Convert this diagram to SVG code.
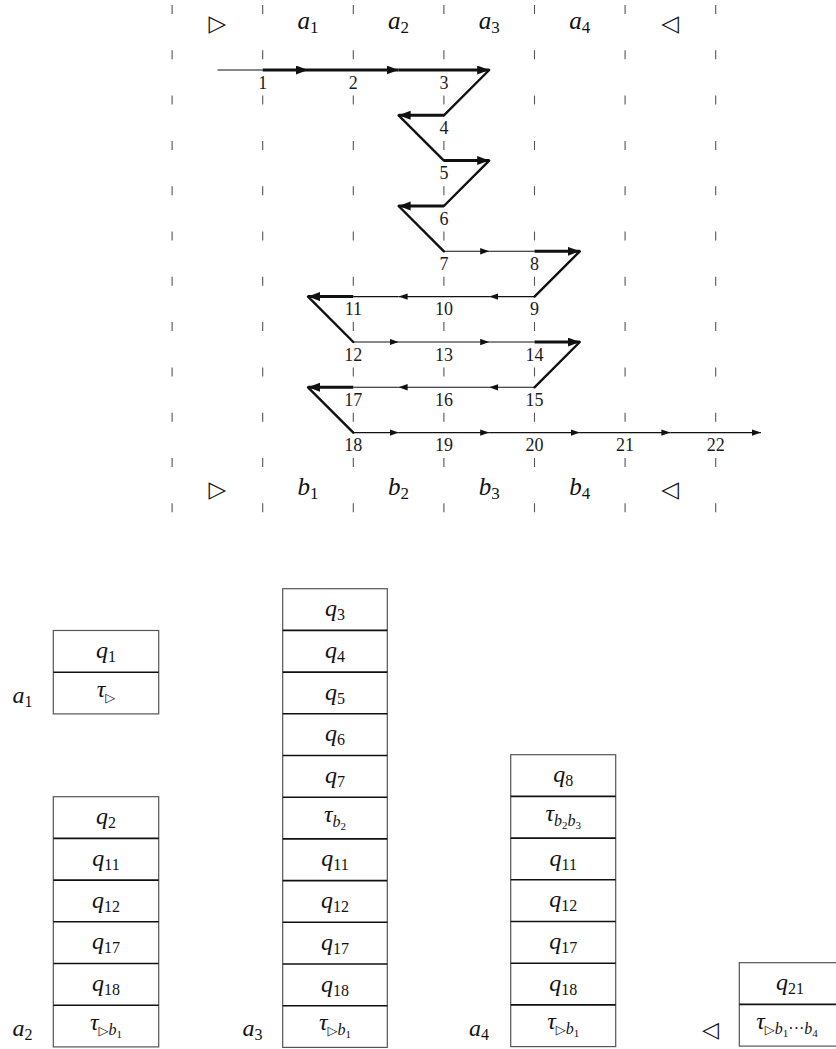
<svg xmlns="http://www.w3.org/2000/svg" width="836" height="1049" viewBox="0 0 836 1049">
  <style>
    .grid line { stroke: #555; stroke-width: 1.1; stroke-dasharray: 9 36.3; }
    .m { font-family: "Liberation Serif", serif; font-style: italic; fill: #111; }
    .hd { font-size: 25px; text-anchor: middle; }
    .cellt { font-size: 24px; text-anchor: middle; }
    .sym { font-family: "DejaVu Sans", sans-serif; font-style: normal; fill: #111; }
    .up { font-style: normal; }
    .n { font-family: "Liberation Serif", serif; font-size: 18px; fill: #1a1a1a; text-anchor: middle; }
    .thin { stroke: #111; stroke-width: 1.1; fill: none; }
    .thick { stroke: #111; stroke-width: 3; fill: none; }
    .diag { stroke: #111; stroke-width: 2.4; fill: none; stroke-linecap: round; }
    .cell { fill: #fff; stroke: #555; stroke-width: 1.2; }
    .div { stroke: #111; stroke-width: 1.6; }
  </style>
  <defs>
    <marker id="sm" markerUnits="userSpaceOnUse" markerWidth="10" markerHeight="7" refX="9" refY="3.2" orient="auto">
      <path d="M0,0 L9,3.2 L0,6.4 z" fill="#111"/>
    </marker>
    <marker id="lg" markerUnits="userSpaceOnUse" markerWidth="13" markerHeight="10" refX="12" refY="4.5" orient="auto">
      <path d="M0,0 L12,4.5 L0,9 z" fill="#111"/>
    </marker>
  </defs>

  <!-- dashed column separators -->
  <g id="grid" class="grid">
    <line x1="172.1" y1="5" x2="172.1" y2="514"/>
    <line x1="262.7" y1="5" x2="262.7" y2="514"/>
    <line x1="353.3" y1="5" x2="353.3" y2="514"/>
    <line x1="443.9" y1="5" x2="443.9" y2="514"/>
    <line x1="534.5" y1="5" x2="534.5" y2="514"/>
    <line x1="625.1" y1="5" x2="625.1" y2="514"/>
    <line x1="715.7" y1="5" x2="715.7" y2="514"/>
  </g>

  <!-- top tape: ▷ a1 .. a4 ◁ -->
  <g id="tape-top" class="m hd">
    <text x="217.4" y="31" class="sym" font-size="23">▷</text>
    <text x="308" y="29">a<tspan font-size="17" class="up" dy="4">1</tspan></text>
    <text x="398.6" y="29">a<tspan font-size="17" class="up" dy="4">2</tspan></text>
    <text x="489.2" y="29">a<tspan font-size="17" class="up" dy="4">3</tspan></text>
    <text x="579.8" y="29">a<tspan font-size="17" class="up" dy="4">4</tspan></text>
    <text x="670.4" y="31" class="sym" font-size="23">◁</text>
  </g>

  <!-- bottom tape: ▷ b1 .. b4 ◁ -->
  <g id="tape-bottom" class="m hd">
    <text x="217.4" y="497" class="sym" font-size="23">▷</text>
    <text x="308" y="495">b<tspan font-size="17" class="up" dy="4">1</tspan></text>
    <text x="398.6" y="495">b<tspan font-size="17" class="up" dy="4">2</tspan></text>
    <text x="489.2" y="495">b<tspan font-size="17" class="up" dy="4">3</tspan></text>
    <text x="579.8" y="495">b<tspan font-size="17" class="up" dy="4">4</tspan></text>
    <text x="670.4" y="497" class="sym" font-size="23">◁</text>
  </g>

  <!-- head path -->
  <g id="connectors">
    <!-- row 1 -->
    <line class="thin" x1="217.4" y1="70" x2="262.7" y2="70"/>
    <line class="thick" x1="262.7" y1="70" x2="308" y2="70" marker-end="url(#lg)"/>
    <line class="thick" x1="308" y1="70" x2="398.6" y2="70" marker-end="url(#lg)"/>
    <line class="thick" x1="398.6" y1="70" x2="489.2" y2="70" marker-end="url(#lg)"/>
    <line class="diag" x1="489.2" y1="70" x2="443.9" y2="115.3"/>
    <!-- row 2 -->
    <line class="thick" x1="443.9" y1="115.3" x2="398.6" y2="115.3" marker-end="url(#lg)"/>
    <line class="diag" x1="398.6" y1="115.3" x2="443.9" y2="160.6"/>
    <!-- row 3 -->
    <line class="thick" x1="443.9" y1="160.6" x2="489.2" y2="160.6" marker-end="url(#lg)"/>
    <line class="diag" x1="489.2" y1="160.6" x2="443.9" y2="206"/>
    <!-- row 4 -->
    <line class="thick" x1="443.9" y1="206" x2="398.6" y2="206" marker-end="url(#lg)"/>
    <line class="diag" x1="398.6" y1="206" x2="443.9" y2="251.3"/>
    <!-- row 5 -->
    <line class="thin" x1="443.9" y1="251.3" x2="489.2" y2="251.3" marker-end="url(#sm)"/>
    <line class="thin" x1="489.2" y1="251.3" x2="534.5" y2="251.3"/>
    <line class="thick" x1="534.5" y1="251.3" x2="579.8" y2="251.3" marker-end="url(#lg)"/>
    <line class="diag" x1="579.8" y1="251.3" x2="534.5" y2="296.6"/>
    <!-- row 6 -->
    <line class="thin" x1="534.5" y1="296.6" x2="489.2" y2="296.6" marker-end="url(#sm)"/>
    <line class="thin" x1="489.2" y1="296.6" x2="398.6" y2="296.6" marker-end="url(#sm)"/>
    <line class="thin" x1="398.6" y1="296.6" x2="353.3" y2="296.6"/>
    <line class="thick" x1="353.3" y1="296.6" x2="308" y2="296.6" marker-end="url(#lg)"/>
    <line class="diag" x1="308" y1="296.6" x2="353.3" y2="342"/>
    <!-- row 7 -->
    <line class="thin" x1="353.3" y1="342" x2="398.6" y2="342" marker-end="url(#sm)"/>
    <line class="thin" x1="398.6" y1="342" x2="489.2" y2="342" marker-end="url(#sm)"/>
    <line class="thin" x1="489.2" y1="342" x2="534.5" y2="342"/>
    <line class="thick" x1="534.5" y1="342" x2="579.8" y2="342" marker-end="url(#lg)"/>
    <line class="diag" x1="579.8" y1="342" x2="534.5" y2="387.3"/>
    <!-- row 8 -->
    <line class="thin" x1="534.5" y1="387.3" x2="489.2" y2="387.3" marker-end="url(#sm)"/>
    <line class="thin" x1="489.2" y1="387.3" x2="398.6" y2="387.3" marker-end="url(#sm)"/>
    <line class="thin" x1="398.6" y1="387.3" x2="353.3" y2="387.3"/>
    <line class="thick" x1="353.3" y1="387.3" x2="308" y2="387.3" marker-end="url(#lg)"/>
    <line class="diag" x1="308" y1="387.3" x2="353.3" y2="432.6"/>
    <!-- row 9 -->
    <line class="thin" x1="353.3" y1="432.6" x2="398.6" y2="432.6" marker-end="url(#sm)"/>
    <line class="thin" x1="398.6" y1="432.6" x2="489.2" y2="432.6" marker-end="url(#sm)"/>
    <line class="thin" x1="489.2" y1="432.6" x2="579.8" y2="432.6" marker-end="url(#sm)"/>
    <line class="thin" x1="579.8" y1="432.6" x2="670.4" y2="432.6" marker-end="url(#sm)"/>
    <line class="thin" x1="670.4" y1="432.6" x2="761" y2="432.6" marker-end="url(#sm)"/>
  </g>

  <!-- step numbers -->
  <g id="steps" class="n">
    <text x="262.7" y="88.5">1</text>
    <text x="353.3" y="88.5">2</text>
    <text x="443.9" y="88.5">3</text>
    <text x="443.9" y="133.8">4</text>
    <text x="443.9" y="179.1">5</text>
    <text x="443.9" y="224.5">6</text>
    <text x="443.9" y="269.8">7</text>
    <text x="534.5" y="269.8">8</text>
    <text x="534.5" y="315.1">9</text>
    <text x="443.9" y="315.1">10</text>
    <text x="353.3" y="315.1">11</text>
    <text x="353.3" y="360.5">12</text>
    <text x="443.9" y="360.5">13</text>
    <text x="534.5" y="360.5">14</text>
    <text x="534.5" y="405.8">15</text>
    <text x="443.9" y="405.8">16</text>
    <text x="353.3" y="405.8">17</text>
    <text x="353.3" y="451.1">18</text>
    <text x="443.9" y="451.1">19</text>
    <text x="534.5" y="451.1">20</text>
    <text x="625.1" y="451.1">21</text>
    <text x="715.7" y="451.1">22</text>
  </g>

  <!-- stack for a1 -->
  <g id="stack-a1">
    <rect class="cell" x="53.3" y="630.5" width="105.4" height="83.4"/>
    <line class="div" x1="53.3" y1="672.2" x2="158.7" y2="672.2"/>
    <g class="m cellt">
      <text x="106" y="658">q<tspan class="up" font-size="16" dy="4">1</tspan></text>
      <text x="106" y="697">τ<tspan class="sym" font-size="13" dy="5">▷</tspan></text>
    </g>
    <text class="m cellt" x="22.5" y="703">a<tspan class="up" font-size="16" dy="4">1</tspan></text>
  </g>

  <!-- stack for a2 -->
  <g id="stack-a2">
    <rect class="cell" x="53.3" y="796.7" width="105.4" height="250.2"/>
    <line class="div" x1="53.3" y1="838.4" x2="158.7" y2="838.4"/>
    <line class="div" x1="53.3" y1="880.1" x2="158.7" y2="880.1"/>
    <line class="div" x1="53.3" y1="921.8" x2="158.7" y2="921.8"/>
    <line class="div" x1="53.3" y1="963.5" x2="158.7" y2="963.5"/>
    <line class="div" x1="53.3" y1="1005.2" x2="158.7" y2="1005.2"/>
    <g class="m cellt">
      <text x="106" y="824.2">q<tspan class="up" font-size="16" dy="4">2</tspan></text>
      <text x="106" y="865.9">q<tspan class="up" font-size="16" dy="4">11</tspan></text>
      <text x="106" y="907.6">q<tspan class="up" font-size="16" dy="4">12</tspan></text>
      <text x="106" y="949.3">q<tspan class="up" font-size="16" dy="4">17</tspan></text>
      <text x="106" y="991.0">q<tspan class="up" font-size="16" dy="4">18</tspan></text>
      <text x="106" y="1029.7">τ<tspan class="sym" font-size="13" dy="5">▷</tspan><tspan font-size="16">b</tspan><tspan class="up" font-size="11" dy="3">1</tspan></text>
    </g>
    <text class="m cellt" x="22.5" y="1036">a<tspan class="up" font-size="16" dy="4">2</tspan></text>
  </g>

  <!-- stack for a3 -->
  <g id="stack-a3">
    <rect class="cell" x="282.7" y="588.7" width="104.6" height="458.7"/>
    <line class="div" x1="282.7" y1="630.4" x2="387.3" y2="630.4"/>
    <line class="div" x1="282.7" y1="672.1" x2="387.3" y2="672.1"/>
    <line class="div" x1="282.7" y1="713.8" x2="387.3" y2="713.8"/>
    <line class="div" x1="282.7" y1="755.5" x2="387.3" y2="755.5"/>
    <line class="div" x1="282.7" y1="797.2" x2="387.3" y2="797.2"/>
    <line class="div" x1="282.7" y1="838.9" x2="387.3" y2="838.9"/>
    <line class="div" x1="282.7" y1="880.6" x2="387.3" y2="880.6"/>
    <line class="div" x1="282.7" y1="922.3" x2="387.3" y2="922.3"/>
    <line class="div" x1="282.7" y1="964.0" x2="387.3" y2="964.0"/>
    <line class="div" x1="282.7" y1="1005.7" x2="387.3" y2="1005.7"/>
    <g class="m cellt">
      <text x="335" y="616.2">q<tspan class="up" font-size="16" dy="4">3</tspan></text>
      <text x="335" y="657.9">q<tspan class="up" font-size="16" dy="4">4</tspan></text>
      <text x="335" y="699.6">q<tspan class="up" font-size="16" dy="4">5</tspan></text>
      <text x="335" y="741.3">q<tspan class="up" font-size="16" dy="4">6</tspan></text>
      <text x="335" y="783.0">q<tspan class="up" font-size="16" dy="4">7</tspan></text>
      <text x="335" y="821.7">τ<tspan font-size="16" dy="5">b</tspan><tspan class="up" font-size="11" dy="3">2</tspan></text>
      <text x="335" y="866.4">q<tspan class="up" font-size="16" dy="4">11</tspan></text>
      <text x="335" y="908.1">q<tspan class="up" font-size="16" dy="4">12</tspan></text>
      <text x="335" y="949.8">q<tspan class="up" font-size="16" dy="4">17</tspan></text>
      <text x="335" y="991.5">q<tspan class="up" font-size="16" dy="4">18</tspan></text>
      <text x="335" y="1030.2">τ<tspan class="sym" font-size="13" dy="5">▷</tspan><tspan font-size="16">b</tspan><tspan class="up" font-size="11" dy="3">1</tspan></text>
    </g>
    <text class="m cellt" x="252.5" y="1036">a<tspan class="up" font-size="16" dy="4">3</tspan></text>
  </g>

  <!-- stack for a4 -->
  <g id="stack-a4">
    <rect class="cell" x="510.7" y="754.7" width="105" height="291.9"/>
    <line class="div" x1="510.7" y1="796.4" x2="615.7" y2="796.4"/>
    <line class="div" x1="510.7" y1="838.1" x2="615.7" y2="838.1"/>
    <line class="div" x1="510.7" y1="879.8" x2="615.7" y2="879.8"/>
    <line class="div" x1="510.7" y1="921.5" x2="615.7" y2="921.5"/>
    <line class="div" x1="510.7" y1="963.2" x2="615.7" y2="963.2"/>
    <line class="div" x1="510.7" y1="1004.9" x2="615.7" y2="1004.9"/>
    <g class="m cellt">
      <text x="563.2" y="782.2">q<tspan class="up" font-size="16" dy="4">8</tspan></text>
      <text x="563.2" y="820.9">τ<tspan font-size="16" dy="5">b</tspan><tspan class="up" font-size="11" dy="3">2</tspan><tspan font-size="16" dy="-3">b</tspan><tspan class="up" font-size="11" dy="3">3</tspan></text>
      <text x="563.2" y="865.6">q<tspan class="up" font-size="16" dy="4">11</tspan></text>
      <text x="563.2" y="907.3">q<tspan class="up" font-size="16" dy="4">12</tspan></text>
      <text x="563.2" y="949.0">q<tspan class="up" font-size="16" dy="4">17</tspan></text>
      <text x="563.2" y="990.7">q<tspan class="up" font-size="16" dy="4">18</tspan></text>
      <text x="563.2" y="1029.4">τ<tspan class="sym" font-size="13" dy="5">▷</tspan><tspan font-size="16">b</tspan><tspan class="up" font-size="11" dy="3">1</tspan></text>
    </g>
    <text class="m cellt" x="479" y="1036">a<tspan class="up" font-size="16" dy="4">4</tspan></text>
  </g>

  <!-- stack for the right end marker -->
  <g id="stack-end">
    <rect class="cell" x="739.3" y="962.7" width="105.4" height="83.4"/>
    <line class="div" x1="739.3" y1="1004.4" x2="844.7" y2="1004.4"/>
    <g class="m cellt">
      <text x="790" y="990.2">q<tspan class="up" font-size="16" dy="4">21</tspan></text>
      <text x="787" y="1028.9">τ<tspan class="sym" font-size="13" dy="5">▷</tspan><tspan font-size="16">b</tspan><tspan class="up" font-size="11" dy="3">1</tspan><tspan class="up" font-size="16" dy="-3">···</tspan><tspan font-size="16">b</tspan><tspan class="up" font-size="11" dy="3">4</tspan></text>
    </g>
    <text class="sym" font-size="22" text-anchor="middle" x="710.5" y="1037">◁</text>
  </g>
</svg>
